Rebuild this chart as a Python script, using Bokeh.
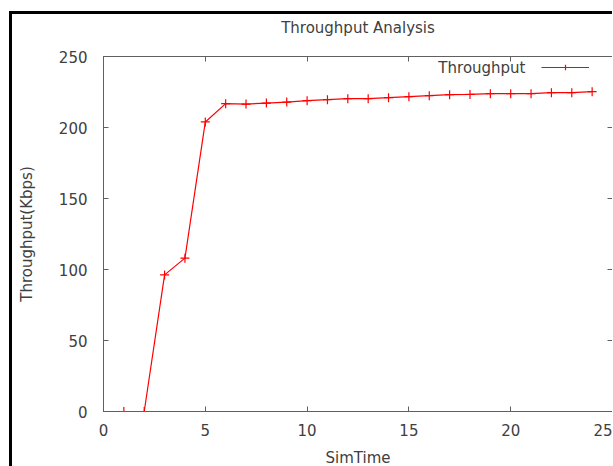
from bokeh.plotting import figure
from bokeh.models import Range1d, FixedTicker, LinearAxis, Legend, LegendItem, Label
from bokeh.embed import file_html
from bokeh.resources import INLINE

# data
sim_time = list(range(1, 25))
throughput = [0, 0, 96.2, 108, 203.9, 216.8, 216.5, 217.2, 217.9, 218.9, 219.6, 220.3,
              220.3, 221, 221.7, 222.4, 223.1, 223.3, 223.8, 223.8, 223.8, 224.5, 224.5, 225.2]
x_ticks = [0, 5, 10, 15, 20, 25]
y_ticks = [0, 50, 100, 150, 200, 250]

FONT = "DejaVu Sans"
TXT = "#404040"
AX = "#606060"

# trailing newline gives the title box extra height so it sits higher above the frame
p = figure(width=603, height=455, output_backend="svg", toolbar_location=None,
           x_range=Range1d(0, 25), y_range=Range1d(0, 250),
           min_border_left=91, min_border_right=3, min_border_top=42, min_border_bottom=54,
           title="Throughput Analysis\n")
p.styles = {"margin-left": "9px", "margin-top": "11px",
            "border-top": "3px solid black", "border-left": "3px solid black"}

p.title.align = "center"
p.title.vertical_align = "top"
p.title.offset = -5
p.title.standoff = 0
p.title.text_font = FONT
p.title.text_font_size = "15px"
p.title.text_font_style = "normal"
p.title.text_color = TXT

p.grid.visible = False
p.outline_line_color = AX
p.background_fill_color = "white"
p.border_fill_color = "white"

for ax, ticks in ((p.xaxis[0], x_ticks), (p.yaxis[0], y_ticks)):
    ax.ticker = FixedTicker(ticks=ticks)
    ax.axis_line_color = AX
    ax.major_tick_line_color = AX
    ax.major_tick_in = 5
    ax.major_tick_out = 0
    ax.minor_tick_line_color = None
    ax.major_label_text_font = FONT
    ax.major_label_text_font_size = "15px"
    ax.major_label_text_color = TXT
    ax.axis_label_text_font = FONT
    ax.axis_label_text_font_size = "15px"
    ax.axis_label_text_font_style = "normal"
    ax.axis_label_text_color = TXT

p.xaxis[0].axis_label = "SimTime"
p.yaxis[0].axis_label = "Throughput(Kbps)"
p.xaxis[0].major_label_standoff = 12
p.xaxis[0].axis_label_standoff = 10
p.yaxis[0].major_label_standoff = 16
p.yaxis[0].axis_label_standoff = 20
p.yaxis[0].major_label_orientation = "horizontal"

for side, ticks in (("above", x_ticks), ("right", y_ticks)):
    a = LinearAxis(ticker=FixedTicker(ticks=ticks))
    a.axis_line_color = AX
    a.major_tick_line_color = AX
    a.major_tick_in = 5
    a.major_tick_out = 0
    a.minor_tick_line_color = None
    a.major_label_text_color = None
    a.major_label_standoff = 0
    p.add_layout(a, side)

r1 = p.line(sim_time, throughput, line_color="#ff0000", line_width=1.2)
r2 = p.scatter(sim_time, throughput, marker="cross", size=9, line_color="#ff0000", line_width=1.2)

legend = Legend(items=[LegendItem(label=" ", renderers=[r1, r2])], location=(438, 337),
                glyph_width=48, glyph_height=14, label_height=14, label_standoff=0,
                padding=0, margin=0, spacing=0, border_line_alpha=0, background_fill_alpha=0,
                label_text_font_size="15px")
p.add_layout(legend)

# legend text (gnuplot puts it left of the sample)
p.add_layout(Label(x=422, y=344, x_units="screen", y_units="screen", text="Throughput",
                   text_align="right", text_baseline="middle", text_font=FONT,
                   text_font_size="15px", text_color=TXT))

open("out.html", "w").write(file_html(p, INLINE))
